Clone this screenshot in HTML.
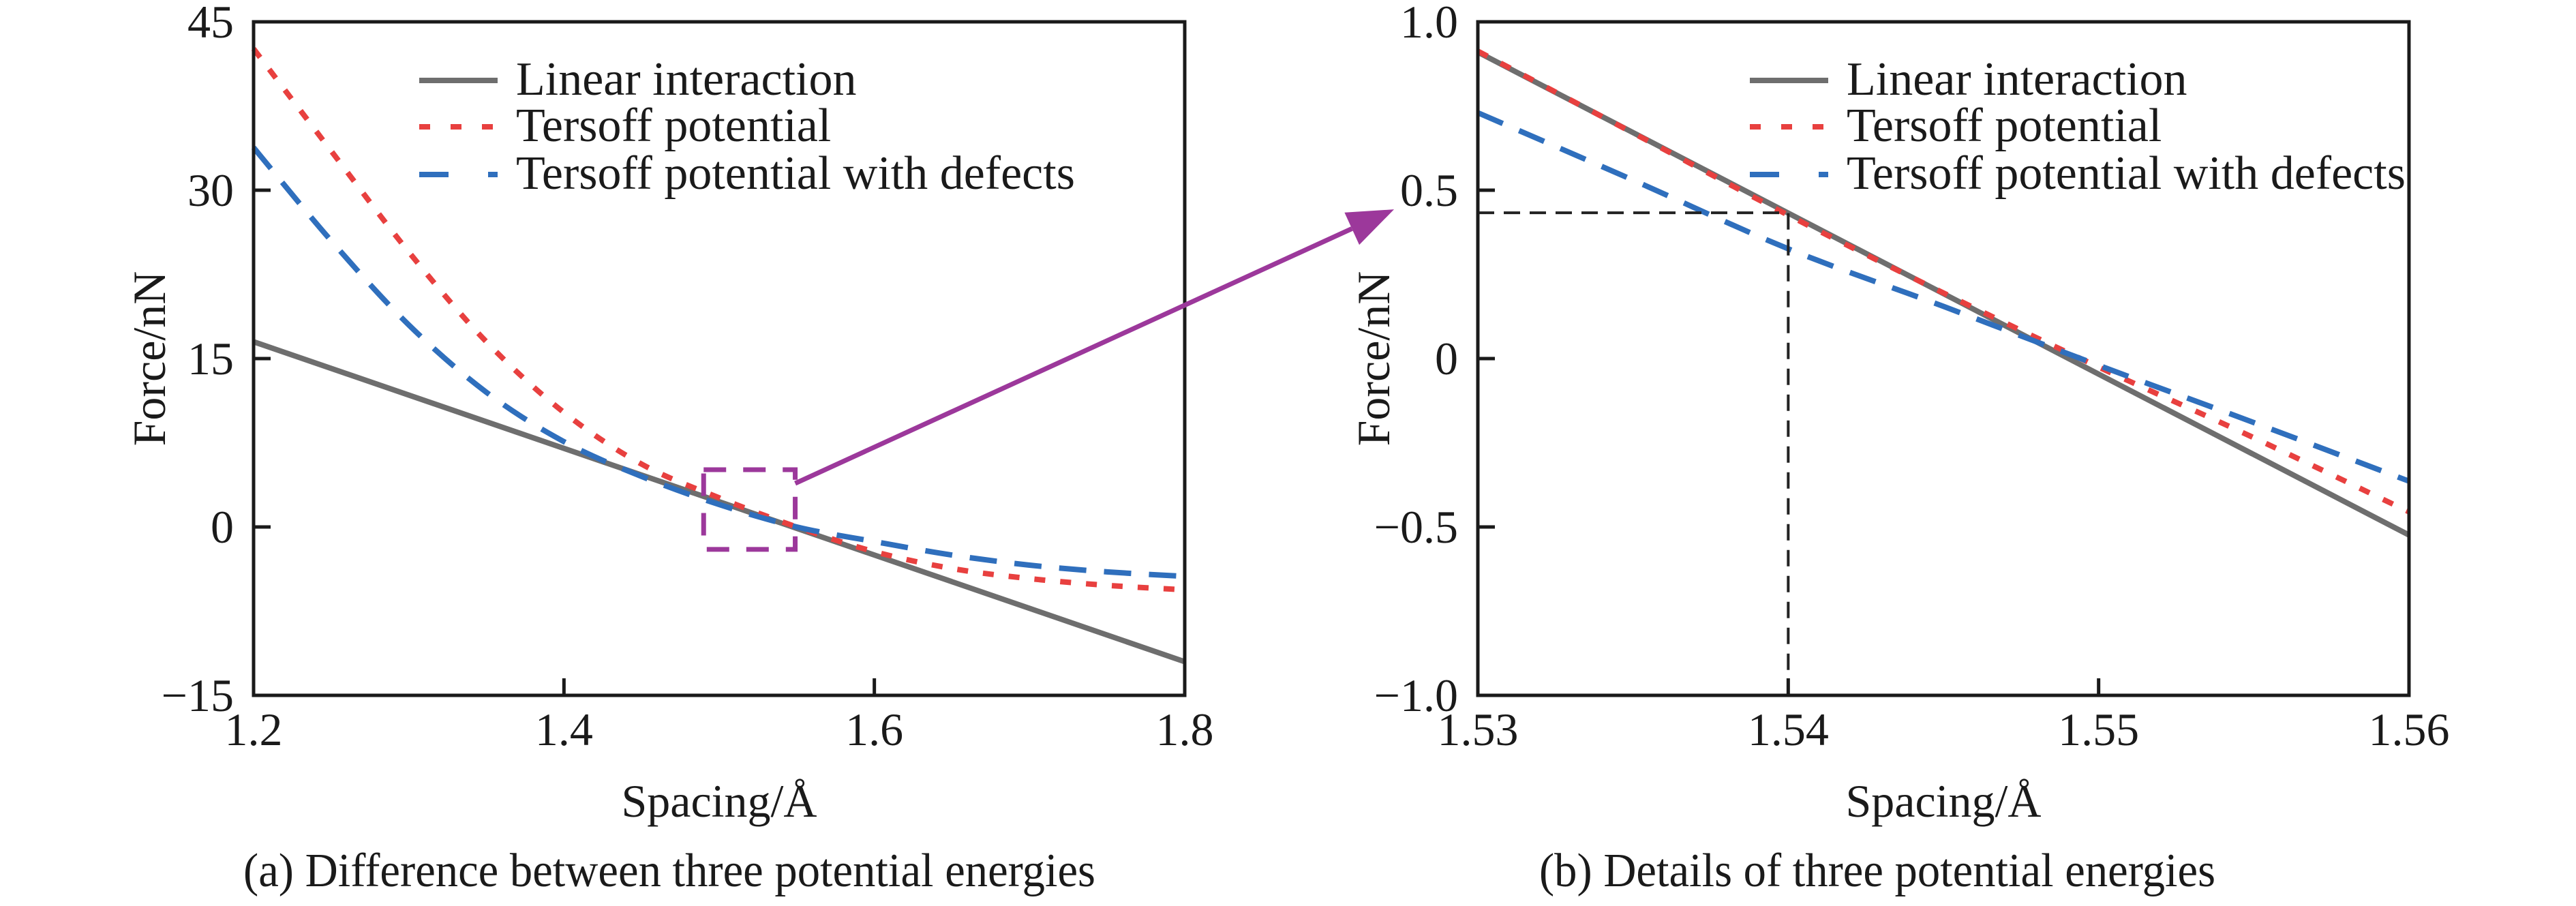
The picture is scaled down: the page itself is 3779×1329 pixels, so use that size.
<!DOCTYPE html>
<html><head><meta charset="utf-8"><style>
html,body{margin:0;padding:0;background:#fff;}
svg{display:block;font-family:"Liberation Serif","Times New Roman",serif;}
</style></head>
<body>
<svg id="fig" width="3779" height="1329" viewBox="0 0 3779 1329" xmlns="http://www.w3.org/2000/svg">
<rect width="3779" height="1329" fill="#fff"/>
<g id="pa"></g>
<g id="pb"></g>
<g id="ann"></g>
</svg>
<script>
// ---- Chart (a) data ----
const aLinearX = [1.2, 1.8];
const aLinearY = [16.5, -12];
const aX = [1.2,1.25,1.3,1.35,1.4,1.45,1.5,1.55,1.6,1.65,1.7,1.75,1.8];
const aTersoff = [42.6,33.5,24.5,16.5,10.2,5.6,2.6,0,-2.2,-3.7,-4.6,-5.2,-5.6];
const aDefects = [33.8,25.5,18.0,12.0,7.6,4.5,2.0,0,-1.3,-2.5,-3.4,-4.0,-4.4];
const aXTicks = [1.2,1.4,1.6,1.8];
const aXTickLabels = ["1.2","1.4","1.6","1.8"];
const aYTicks = [-15,0,15,30,45];
const aYTickLabels = ["\u221215","0","15","30","45"];
// ---- Chart (b) data ----
const bLinearX = [1.53, 1.56];
const bLinearY = [0.91, -0.524];
const bX = [1.53,1.535,1.54,1.545,1.55,1.555,1.56];
const bTersoff = [0.913,0.67,0.426,0.195,-0.025,-0.235,-0.455];
const bDefects = [0.73,0.53,0.326,0.155,-0.02,-0.19,-0.364];
const bXTicks = [1.53,1.54,1.55,1.56];
const bXTickLabels = ["1.53","1.54","1.55","1.56"];
const bYTicks = [-1,-0.5,0,0.5,1];
const bYTickLabels = ["\u22121.0","\u22120.5","0","0.5","1.0"];
const bMarkX = 1.54;
const bMarkY = 0.433;
// zoom box in chart (a) data coords
const boxX = [1.49, 1.549];
const boxY = [-2.0, 5.1];
const arrowTarget = [1.5273, 0.443]; // in chart (b) data coords (left of axis)

const NS = "http://www.w3.org/2000/svg";
function mk(tag, attrs, parent){const e=document.createElementNS(NS,tag);for(const k in attrs)e.setAttribute(k,attrs[k]);parent.appendChild(e);return e;}
function scale(d0,d1,r0,r1){return v=>r0+(v-d0)*(r1-r0)/(d1-d0);}
function smoothPath(px){
  let d="M"+px[0][0]+","+px[0][1];
  for(let i=0;i<px.length-1;i++){
    const p0=px[i-1]||px[i],p1=px[i],p2=px[i+1],p3=px[i+2]||p2;
    const c1=[p1[0]+(p2[0]-p0[0])/6,p1[1]+(p2[1]-p0[1])/6];
    const c2=[p2[0]-(p3[0]-p1[0])/6,p2[1]-(p3[1]-p1[1])/6];
    d+=" C"+c1[0]+","+c1[1]+" "+c2[0]+","+c2[1]+" "+p2[0]+","+p2[1];
  }
  return d;
}
const GRAY="#6e6e6e",RED="#e8403f",BLUE="#2f6fbd",MAG="#9c389b";
const RED_DASH="16 22",BLUE_DASH="40 26";

function chart(g, cfg){
  const sx=scale(cfg.xd[0],cfg.xd[1],cfg.L,cfg.R), sy=scale(cfg.yd[0],cfg.yd[1],cfg.B,cfg.T);
  const ln=mk("path",{d:"M"+sx(cfg.linX[0])+","+sy(cfg.linY[0])+" L"+sx(cfg.linX[1])+","+sy(cfg.linY[1]),stroke:GRAY,"stroke-width":8,fill:"none"},g);
  
  
  const rp=mk("path",{d:smoothPath(cfg.x.map((v,i)=>[sx(v),sy(cfg.ter[i])])),stroke:RED,"stroke-width":8,fill:"none","stroke-dasharray":RED_DASH},g);
  
  
  const bp=mk("path",{d:smoothPath(cfg.x.map((v,i)=>[sx(v),sy(cfg.def[i])])),stroke:BLUE,"stroke-width":8,fill:"none","stroke-dasharray":BLUE_DASH},g);
  
  
  if(cfg.mark){
    const m=mk("path",{d:"M"+cfg.L+","+sy(cfg.mark[1])+" H"+sx(cfg.mark[0])+" V"+cfg.B,stroke:"#222","stroke-width":4,fill:"none","stroke-dasharray":"24 14"},g);
    
    
  }
  const fr=mk("rect",{x:cfg.L,y:cfg.T,width:cfg.R-cfg.L,height:cfg.B-cfg.T,fill:"none",stroke:"#1a1a1a","stroke-width":5},g);
  
  
  cfg.xt.forEach((v,i)=>{
    const x=sx(v);
    const t=mk("line",{x1:x,x2:x,y1:cfg.B,y2:cfg.B-25,stroke:"#1a1a1a","stroke-width":5},g);
    
    
    const tx=mk("text",{x:x,y:cfg.B+73,"font-size":68,"text-anchor":"middle",fill:"#1a1a1a"},g);
    tx.textContent=cfg.xl[i];
    
    
  });
  cfg.yt.forEach((v,i)=>{
    const y=sy(v);
    const t=mk("line",{x1:cfg.L,x2:cfg.L+25,y1:y,y2:y,stroke:"#1a1a1a","stroke-width":5},g);
    
    
    const tx=mk("text",{x:cfg.L-29,y:y+23,"font-size":68,"text-anchor":"end",fill:"#1a1a1a"},g);
    tx.textContent=cfg.yl[i];
    
    
  });
  const xtl=mk("text",{x:(cfg.L+cfg.R)/2,y:1198,"font-size":68,"text-anchor":"middle",fill:"#1a1a1a"},g);
  xtl.textContent="Spacing/\u00C5";
  
  
  const ytx=cfg.L-130, yty=(cfg.T+cfg.B)/2;
  const ytl=mk("text",{x:ytx,y:yty,"font-size":68,"text-anchor":"middle",fill:"#1a1a1a",transform:"rotate(-90 "+ytx+" "+yty+")"},g);
  ytl.textContent="Force/nN";
  
  
  const lx0=cfg.legX, rows=[118,186,256];
  const lg=mk("g",{},g);
  
  
  const l1=mk("line",{x1:lx0,x2:lx0+115,y1:rows[0],y2:rows[0],stroke:GRAY,"stroke-width":8},lg);
  
  
  const l2=mk("line",{x1:lx0,x2:lx0+115,y1:rows[1],y2:rows[1],stroke:RED,"stroke-width":8,"stroke-dasharray":"16 30"},lg);
  
  
  const l3=mk("path",{d:"M"+lx0+","+rows[2]+" h43 M"+(lx0+101)+","+rows[2]+" h14",stroke:BLUE,"stroke-width":8},lg);
  
  
  ["Linear interaction","Tersoff potential","Tersoff potential with defects"].forEach((s,i)=>{
    const t=mk("text",{x:lx0+142,y:rows[i]+21,"font-size":70,fill:"#1a1a1a"},lg);
    t.textContent=s;
    
    
  });
  const cap=mk("text",{x:cfg.capX,y:1300,"font-size":70,"text-anchor":"middle",fill:"#1a1a1a",textLength:cfg.capW,lengthAdjust:"spacingAndGlyphs"},g);
  cap.textContent=cfg.cap;
  
  
  return {sx,sy};
}
const A=chart(document.getElementById("pa"),{L:372,R:1738,T:32,B:1020,xd:[1.2,1.8],yd:[-15,45],
  linX:aLinearX,linY:aLinearY,x:aX,ter:aTersoff,def:aDefects,xt:aXTicks,xl:aXTickLabels,yt:aYTicks,yl:aYTickLabels,
  legX:615,cap:"(a) Difference between three potential energies",capX:982,capW:1250});
const Bc=chart(document.getElementById("pb"),{L:2168,R:3534,T:32,B:1020,xd:[1.53,1.56],yd:[-1,1],
  linX:bLinearX,linY:bLinearY,x:bX,ter:bTersoff,def:bDefects,xt:bXTicks,xl:bXTickLabels,yt:bYTicks,yl:bYTickLabels,
  mark:[bMarkX,bMarkY],legX:2567,cap:"(b) Details of three potential energies",capX:2754,capW:992});
const ann=document.getElementById("ann");
const bx0=A.sx(boxX[0]),bx1=A.sx(boxX[1]),by0=A.sy(boxY[1]),by1=A.sy(boxY[0]);
const box=mk("rect",{x:bx0,y:by0,width:bx1-bx0,height:by1-by0,fill:"none",stroke:MAG,"stroke-width":7,"stroke-dasharray":"33 25"},ann);


const sX=bx1, sY=by0+20, tX=Bc.sx(arrowTarget[0]), tY=Bc.sy(arrowTarget[1]);
const dx=tX-sX, dy=tY-sY, len=Math.hypot(dx,dy), ux=dx/len, uy=dy/len, hl=68, hw=26;
const baseX=tX-ux*hl, baseY=tY-uy*hl;
const ar=mk("path",{d:"M"+sX+","+sY+" L"+baseX+","+baseY,stroke:MAG,"stroke-width":7,fill:"none"},ann);


const ah=mk("polygon",{points:tX+","+tY+" "+(baseX-uy*hw)+","+(baseY+ux*hw)+" "+(baseX+uy*hw)+","+(baseY-ux*hw),fill:MAG},ann);


</script>
</body></html>
